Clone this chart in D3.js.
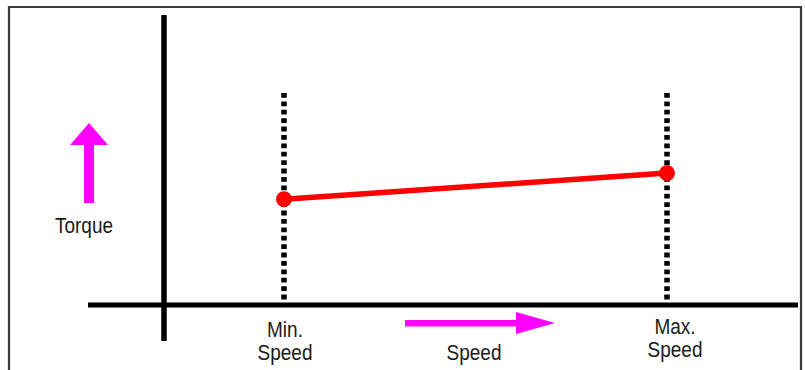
<!DOCTYPE html>
<html>
<head>
<meta charset="utf-8">
<script src="https://cdn.jsdelivr.net/npm/d3@7"></script>
<style>
  html, body { margin: 0; padding: 0; background: #fff; }
  svg { display: block; }
  text { font-family: "Liberation Sans", Arial, Helvetica, sans-serif; fill: #1a1a1a; }
</style>
</head>
<body>
<svg id="chart" width="805" height="370"></svg>
<script>
// ---- data ----
const speedLabels = ["Min.\nSpeed", "Max.\nSpeed"];
const speedValues = [1, 4];          // min speed, max speed (relative units)
const torqueValues = [3.65, 4.55];   // torque at min / max speed
const axisTitles = ["Torque", "Speed"];

// ---- layout ----
const W = 805, H = 370;
const svg = d3.select("#chart");

const x = d3.scaleLinear().domain([1, 4]).range([284, 667]);
const xOrigin = 164;
const y = d3.scaleLinear().domain([0, 10]).range([305, 15]);
const sy = 1.12; // vertical stretch of the text, as in the reference

// frame
svg.append("path")
  .attr("d", `M9,${H + 2} V7 H801 V${H + 2}`)
  .attr("fill", "none")
  .attr("stroke", "#3a3a3a")
  .attr("stroke-width", 2.2);

// dotted speed limit lines
svg.selectAll("line.limit")
  .data(speedValues)
  .enter().append("line")
  .attr("class", "limit")
  .attr("x1", d => x(d)).attr("x2", d => x(d))
  .attr("y1", 93).attr("y2", 303)
  .attr("stroke", "#000")
  .attr("stroke-width", 5.5)
  .attr("stroke-dasharray", "4.8,3.6");

// axes
svg.append("line")
  .attr("x1", xOrigin).attr("x2", xOrigin)
  .attr("y1", 15).attr("y2", 341)
  .attr("stroke", "#000").attr("stroke-width", 5.5);

svg.append("line")
  .attr("x1", 88).attr("x2", 798)
  .attr("y1", y(0)).attr("y2", y(0))
  .attr("stroke", "#000").attr("stroke-width", 5);

// torque line
const pts = speedValues.map((s, i) => [s, torqueValues[i]]);
svg.append("path")
  .datum(pts)
  .attr("d", d3.line().x(d => x(d[0])).y(d => y(d[1])))
  .attr("fill", "none")
  .attr("stroke", "#ff0000")
  .attr("stroke-width", 5.5);

svg.selectAll("circle.pt")
  .data(pts)
  .enter().append("circle")
  .attr("class", "pt")
  .attr("cx", d => x(d[0]))
  .attr("cy", d => y(d[1]))
  .attr("r", 8)
  .attr("fill", "#ff0000");

// magenta arrows
const mag = "#ff00ff";
// up arrow (torque)
svg.append("rect").attr("x", 84).attr("y", 140).attr("width", 10).attr("height", 63).attr("fill", mag);
svg.append("path").attr("d", "M89,123 L108,145 L70,145 Z").attr("fill", mag);
// right arrow (speed)
svg.append("rect").attr("x", 405).attr("y", 320).attr("width", 116).attr("height", 6.5).attr("fill", mag);
svg.append("path").attr("d", "M516,312 L555,323 L516,334 Z").attr("fill", mag);

function stretchedText(cx, baseline, lines, lineGap) {
  const g = svg.append("g")
    .attr("transform", `translate(${cx},${baseline}) scale(1,${sy})`);
  const t = g.append("text")
    .attr("text-anchor", "middle")
    .attr("font-size", 19);
  lines.forEach((ln, j) => {
    t.append("tspan").attr("x", 0).attr("y", j * lineGap / sy).text(ln);
  });
}

// axis titles
stretchedText(84, 233, [axisTitles[0]], 0);
stretchedText(474, 360, [axisTitles[1]], 0);

// speed labels
const labelY = [337, 334];
speedLabels.forEach((lab, i) => {
  stretchedText(x(speedValues[i]) + (i === 0 ? 1 : 8), labelY[i], lab.split("\n"), 23);
});
</script>
</body>
</html>
